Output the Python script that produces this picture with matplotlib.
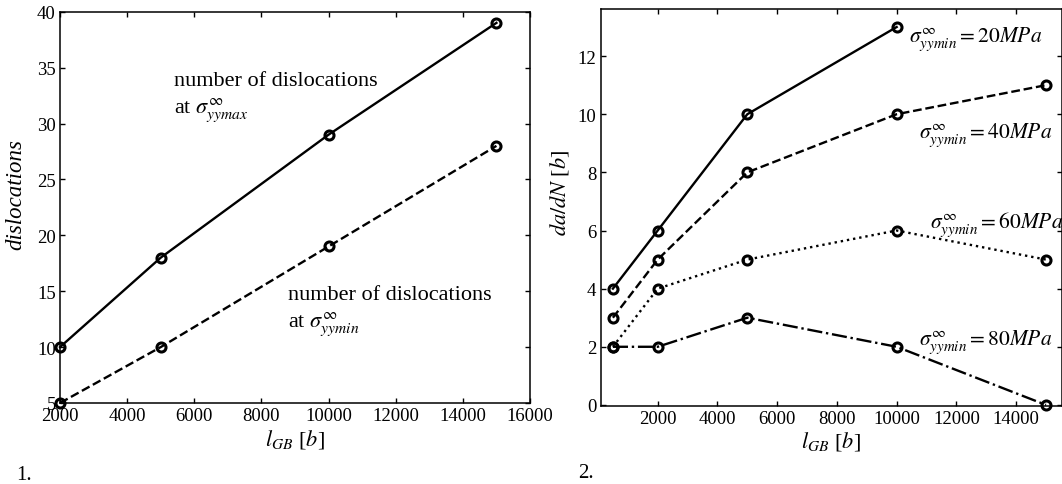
import numpy as np
import matplotlib.pyplot as plt

plt.rcParams['font.family'] = 'Liberation Serif'
plt.rcParams['mathtext.fontset'] = 'stix'

# Datos figura 1
x_disl = [2000, 5000, 10000, 15000]
disl_max = [10, 18, 29, 39]
disl_min = [5, 10, 19, 28]

# Datos figura 2
x_rate = [500, 2000, 5000, 10000, 15000]
rate_20 = [4, 6, 10, 13]
rate_40 = [3, 5, 8, 10, 11]
rate_60 = [2, 4, 5, 6, 5]
rate_80 = [2, 2, 3, 2, 0]

W, H = 1062, 485
fig = plt.figure(figsize=(W / 100, H / 100), dpi=100)

mk = dict(color='black', marker='o', markerfacecolor='none', markeredgecolor='black',
          markersize=6.5, markeredgewidth=2.2, linewidth=1.7)

def style_axes(ax):
    ax.tick_params(direction='in', top=True, right=True, labelsize=13.5, length=3.5,
                   width=1, pad=3)
    for s in ax.spines.values():
        s.set_linewidth(1.1)

# Figura 1
ax1 = fig.add_axes([60 / W, 1 - 404 / H, (530 - 60) / W, (404 - 12.7) / H])
ax1.plot(x_disl, disl_max, linestyle='-', clip_on=False, **mk)
ax1.plot(x_disl, disl_min, linestyle='--', clip_on=False, **mk)
ax1.set_xlim(2000, 16000)
ax1.set_ylim(5, 40)
ax1.set_xticks(np.arange(2000, 16001, 2000))
ax1.set_yticks(np.arange(5, 41, 5))
style_axes(ax1)
ax1.set_ylabel('dislocations', fontsize=16.5, style='italic')
ax1.yaxis.set_label_coords(-0.072, 0.535)
ax1.set_xlabel('$l_{GB}$ [$b$]', fontsize=16, labelpad=2)
ax1.text(5400, 33.44, 'number of dislocations', fontsize=16, va='baseline')
ax1.text(5400, 31.0, 'at $\\sigma^{\\infty}_{yymax}$', fontsize=16, va='baseline')
ax1.text(8780, 14.3, 'number of dislocations', fontsize=16, va='baseline')
ax1.text(8780, 11.86, 'at $\\sigma^{\\infty}_{yymin}$', fontsize=16, va='baseline')

# Figura 2
ax2 = fig.add_axes([600.5 / W, 1 - 406.5 / H, (1061.5 - 600.5) / W, (406.5 - 10) / H])
ax2.plot(x_rate[:4], rate_20, linestyle='-', clip_on=False, **mk)
ax2.plot(x_rate, rate_40, linestyle='--', clip_on=False, **mk)
ax2.plot(x_rate, rate_60, linestyle=':', clip_on=False, **mk)
ax2.plot(x_rate, rate_80, linestyle='-.', clip_on=False, **mk)
ax2.set_xlim(85, 15520)
ax2.set_ylim(-0.02, 13.62)
ax2.set_xticks(np.arange(2000, 14001, 2000))
ax2.set_yticks(np.arange(0, 13, 2))
style_axes(ax2)
ax2.set_ylabel('$da/dN$ [$b$]', fontsize=16)
ax2.yaxis.set_label_coords(-0.064, 0.54)
ax2.set_xlabel('$l_{GB}$ [$b$]', fontsize=16, labelpad=2)
ax2.text(10420, 12.52, '$\\sigma^{\\infty}_{yymin} = 20MPa$', fontsize=15.5, va='baseline')
ax2.text(10750, 9.23, '$\\sigma^{\\infty}_{yymin} = 40MPa$', fontsize=15.5, va='baseline')
ax2.text(11120, 6.13, '$\\sigma^{\\infty}_{yymin} = 60MPa$', fontsize=15.5, va='baseline')
ax2.text(10750, 2.1, '$\\sigma^{\\infty}_{yymin} = 80MPa$', fontsize=15.5, va='baseline')

fig.text(16 / W, 1 - 480 / H, '1.', fontsize=15)
fig.text(578 / W, 1 - 478 / H, '2.', fontsize=15)

fig.savefig('out.png', dpi=100)
